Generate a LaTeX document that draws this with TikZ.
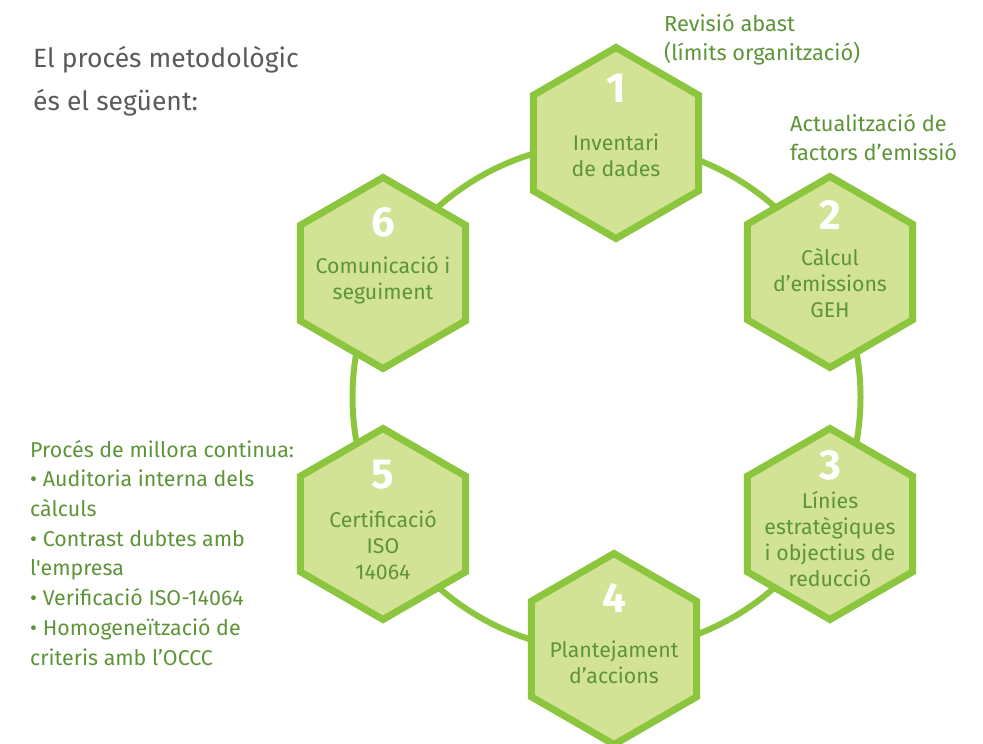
\documentclass[tikz,border=0pt]{standalone}
\usepackage{fontspec}
\setmainfont{Fira Sans}[Ligatures=TeXOff]
\usetikzlibrary{shapes.geometric,positioning}
\definecolor{vorapal}{HTML}{8CC63F}
\definecolor{fonspal}{HTML}{D3E396}
\definecolor{textpal}{HTML}{5E9438}
\definecolor{titolpal}{HTML}{5A5A5A}
\tikzstyle{hexagon} = [regular polygon, regular polygon sides=6, shape border rotate=30, draw=vorapal, fill=fonspal, line width=7pt, minimum size=191pt, inner sep=0pt]
\tikzstyle{numero} = [text=white, font=\fontsize{42}{42}\selectfont\bfseries, inner sep=0pt]
\tikzstyle{etiqueta} = [text=textpal, align=center, font=\fontsize{21.3}{26}\selectfont, inner sep=0pt]
\tikzstyle{lateral} = [text=textpal, align=left, font=\fontsize{21.8}{29}\selectfont, inner sep=0pt]
\tikzstyle{anell} = [draw=vorapal, line width=6pt]

\begin{document}
\begin{tikzpicture}[x=1pt, y=-1pt]

        \useasboundingbox (0,0) rectangle (983,744);

        \coordinate (centre) at (606.5,397);
        \draw[anell] (centre) circle (254pt);

        \node (h1) [hexagon] at (616,143) {};
        \node (h2) [hexagon] at (830,272) {};
        \node (h3) [hexagon] at (830,524) {};
        \node (h4) [hexagon] at (614,649) {};
        \node (h5) [hexagon] at (383,524) {};
        \node (h6) [hexagon] at (383,273) {};

        \node (n1) [numero] at ([yshift=55pt]h1.center) {1};
        \node (n2) [numero] at ([yshift=57pt]h2.center) {2};
        \node (n3) [numero] at ([yshift=59pt]h3.center) {3};
        \node (n4) [numero] at ([yshift=51pt]h4.center) {4};
        \node (n5) [numero] at ([yshift=49pt]h5.center) {5};
        \node (n6) [numero] at ([yshift=51pt]h6.center) {6};

        \node (t1) [etiqueta] at ([yshift=-12pt]h1.center) {Inventari\\de dades};
        \node (t2) [etiqueta] at ([yshift=-11pt]h2.center) {Càlcul\\d’emissions\\GEH};
        \node (t3) [etiqueta] at ([yshift=-15pt]h3.center) {Línies\\estratègiques\\i objectius de\\reducció};
        \node (t4) [etiqueta] at ([yshift=-13pt]h4.center) {Plantejament\\d’accions};
        \node (t5) [etiqueta] at ([yshift=-21pt]h5.center) {Certificació\\ISO\\14064};
        \node (t6) [etiqueta] at ([yshift=-7pt]h6.center) {Comunicació i\\seguiment};

        % textos laterals
        \node (titol) [text=titolpal, align=left, font=\fontsize{26.5}{43}\selectfont, inner sep=0pt, anchor=base west] at (33,110) {El procés metodològic\\és el següent:};
        \node (revisio) [lateral, anchor=base west] at (664,60) {Revisió abast\\(límits organització)};
        \node (factors) [lateral, anchor=base west] at (790,160) {Actualització de\\factors d’emissió};
        \node (millora) [lateral, anchor=base west, font=\fontsize{21.4}{29.7}\selectfont] at (30,665) {Procés de millora continua:\\• Auditoria interna dels\\càlculs\\• Contrast dubtes amb\\l'empresa\\• Verificació ISO-14064\\• Homogeneïtzació de\\criteris amb l’OCCC};

    \end{tikzpicture}
\end{document}
